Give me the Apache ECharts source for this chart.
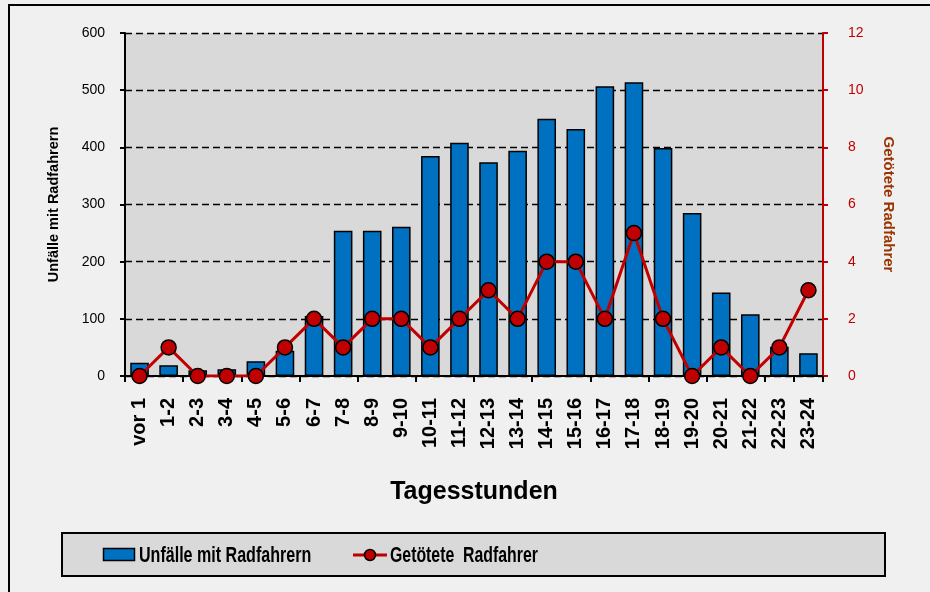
<!DOCTYPE html>
<html><head><meta charset="utf-8">
<script src="https://cdn.jsdelivr.net/npm/echarts@6/dist/echarts.min.js"></script>
<style>html,body{margin:0;padding:0;background:#f0f0f0;}#c{width:930px;height:592px;}</style>
</head><body><div id="c"></div>
<script>
const categories = ['vor 1','1-2','2-3','3-4','4-5','5-6','6-7','7-8','8-9','9-10','10-11','11-12','12-13','13-14','14-15','15-16','16-17','17-18','18-19','19-20','20-21','21-22','22-23','23-24'];
const unfaelle = [23,19,10,12,26,44,105,254,254,261,385,408,374,394,450,432,507,514,399,285,146,108,51,40];
const getoetete = [0,1,0,0,0,1,2,1,2,2,1,2,3,2,4,4,2,5,2,0,1,0,1,3];
const leftTicks = [0,600,100];
const rightTicks = [0,12,2];
const seriesNames = ['Unfälle mit Radfahrern', 'Getötete  Radfahrer'];

const chart = echarts.init(document.getElementById('c'));
const FONT = 'Liberation Sans, Arial, sans-serif';
const legendFont = 'bold 22px "Liberation Sans", Arial, sans-serif';
chart.setOption({
  backgroundColor: '#f0f0f0',
  animation: false,
  graphic: [
    {type:'rect', shape:{x:9,y:5,width:940,height:600}, style:{fill:'none', stroke:'#000', lineWidth:2}, z:-1},
    {type:'rect', shape:{x:62,y:533,width:823,height:43}, style:{fill:'#d9d9d9', stroke:'#000', lineWidth:2}, z:-1},
    {type:'rect', shape:{x:103.5,y:548.5,width:31,height:12}, style:{fill:'#0070c0', stroke:'#000', lineWidth:1.5}},
    {type:'text', x:139, y:556, scaleX:0.73, originX:0, originY:0,
     style:{x:0, y:0, text:seriesNames[0], font:legendFont, fill:'#000', verticalAlign:'middle'}},
    {type:'line', shape:{x1:353,y1:555,x2:387,y2:555}, style:{stroke:'#c00000', lineWidth:3}},
    {type:'circle', shape:{cx:370,cy:555,r:5.5}, style:{fill:'#c00000', stroke:'#000', lineWidth:1.5}},
    {type:'text', x:390, y:556, scaleX:0.72, originX:0, originY:0,
     style:{x:0, y:0, text:seriesNames[1], font:legendFont, fill:'#000', verticalAlign:'middle'}}
  ],
  grid: {left:125, right:107, top:33, bottom:216, show:true, backgroundColor:'#d9d9d9', borderWidth:0},
  xAxis: {
    type:'category', data: categories,
    name:'Tagesstunden', nameLocation:'middle', nameGap:104,
    nameTextStyle:{fontFamily:FONT, fontWeight:'bold', fontSize:25, color:'#000'},
    axisLine:{lineStyle:{color:'#000', width:2}},
    axisTick:{show:true, interval:1, length:6, lineStyle:{color:'#000', width:2}},
    axisLabel:{rotate:90, interval:0, margin:22, fontFamily:FONT, fontWeight:'bold', fontSize:20, color:'#000'}
  },
  yAxis: [
    {type:'value', min:leftTicks[0], max:leftTicks[1], interval:leftTicks[2],
     name:'Unfälle mit Radfahrern', nameLocation:'middle', nameGap:64, nameRotate:90,
     nameTextStyle:{fontFamily:FONT, fontWeight:'bold', fontSize:14.5, color:'#000'},
     axisLine:{show:true, lineStyle:{color:'#000', width:2}},
     axisTick:{show:true, length:5, lineStyle:{color:'#000', width:2}},
     axisLabel:{fontFamily:FONT, fontSize:14, color:'#000', margin:20},
     splitLine:{show:true, lineStyle:{color:'#000', type:[7,4], width:1.3}}},
    {type:'value', min:rightTicks[0], max:rightTicks[1], interval:rightTicks[2], position:'right',
     name:'Getötete Radfahrer', nameLocation:'middle', nameGap:58, nameRotate:-90,
     nameTextStyle:{fontFamily:FONT, fontWeight:'bold', fontSize:15, color:'#993300'},
     axisLine:{show:true, lineStyle:{color:'#c00000', width:2}},
     axisTick:{show:true, length:5, lineStyle:{color:'#c00000', width:2}},
     axisLabel:{fontFamily:FONT, fontSize:14, color:'#c00000', margin:25},
     splitLine:{show:false}}
  ],
  series: [
    {name:seriesNames[0], type:'bar', data: unfaelle, barWidth:'64%',
     itemStyle:{color:'#0070c0', borderColor:'#000', borderWidth:1.5}},
    {name:seriesNames[1], type:'line', yAxisIndex:1, data: getoetete,
     lineStyle:{color:'#c00000', width:3}, symbol:'circle', symbolSize:15,
     itemStyle:{color:'#c00000', borderColor:'#000', borderWidth:1.5}, z:5}
  ]
});
</script></body></html>
